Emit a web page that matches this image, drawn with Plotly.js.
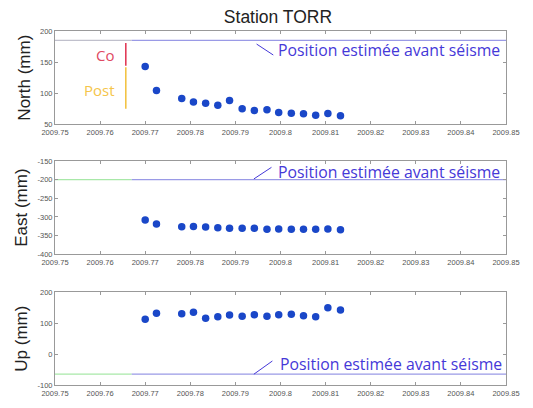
<!DOCTYPE html>
<html>
<head>
<meta charset="utf-8">
<script src="https://cdn.plot.ly/plotly-3.0.1.min.js"></script>
<style>html,body{margin:0;padding:0;background:#fff;}#chart{width:533px;height:408px;}</style>
</head>
<body>
<div id="chart"></div>
<script>
// ---- data ----
const dates = [2009.7700, 2009.7725, 2009.7781, 2009.7807, 2009.7834, 2009.7861, 2009.7887, 2009.7915,
               2009.7942, 2009.7970, 2009.7996, 2009.8024, 2009.8051, 2009.8078, 2009.8105, 2009.8133];
const north = [143, 104.5, 91.5, 86, 84, 80.5, 88.3, 75, 72.3, 73.6, 69, 67.9, 66.8, 64.7, 67.3, 63.6];
const east = [-308, -319, -326, -325.5, -327, -329, -330.5, -330.5, -330.5, -333, -332, -333, -333, -333, -332, -334];
const up = [112.6, 132, 130.7, 135.3, 115.9, 121, 126.5, 122.3, 127.5, 122.3, 127.5, 128.8, 124.3, 121, 150.2, 142.7];

// estimated pre-earthquake positions (before / after switch)
const preBeforeX = [2009.75, 2009.767];
const preAfterX = [2009.767, 2009.85];
const preNorth = 185;
const preEast = -200;
const preUp = -65;

// co-seismic and post-seismic bars (North panel)
const quakeX = 2009.7657;
const coRange = [180.7, 144.2];
const postRange = [141.6, 75];

const xTickVals = [2009.75, 2009.76, 2009.77, 2009.78, 2009.79, 2009.8, 2009.81, 2009.82, 2009.83, 2009.84, 2009.85];
const xTickText = ['2009.75', '2009.76', '2009.77', '2009.78', '2009.79', '2009.8', '2009.81', '2009.82', '2009.83', '2009.84', '2009.85'];
const northTicks = [50, 100, 150, 200];
const eastTicks = [-400, -350, -300, -250, -200, -150];
const upTicks = [-100, 0, 100, 200];

const labelText = 'Position estimée avant séisme';
const titleText = 'Station TORR';

// ---- styles ----
const dotColor = '#1a47c8';
const greenCol = '#a8e8a8';
const purpleCol = '#9a9ae6';
const textBlue = '#4538d8';

function dots(y, xa, ya) {
  return {x: dates, y: y, xaxis: xa, yaxis: ya, mode: 'markers', type: 'scatter',
          marker: {color: dotColor, size: 7.5}, hoverinfo: 'skip', showlegend: false};
}
function seg(xs, yv, col, xa, ya) {
  return {x: xs, y: [yv, yv], xaxis: xa, yaxis: ya, mode: 'lines', type: 'scatter',
          line: {color: col, width: 1.2}, hoverinfo: 'skip', showlegend: false};
}

const traces = [
  seg(preBeforeX, preNorth, '#c0c0cc', 'x', 'y'),
  seg(preAfterX, preNorth, purpleCol, 'x', 'y'),
  seg(preBeforeX, preEast, greenCol, 'x2', 'y2'),
  seg(preAfterX, preEast, purpleCol, 'x2', 'y2'),
  seg(preBeforeX, preUp, greenCol, 'x3', 'y3'),
  seg(preAfterX, preUp, purpleCol, 'x3', 'y3'),
  {x: [quakeX, quakeX], y: coRange, xaxis: 'x', yaxis: 'y', mode: 'lines', type: 'scatter',
   line: {color: '#e0304e', width: 1.5}, hoverinfo: 'skip', showlegend: false},
  {x: [quakeX, quakeX], y: postRange, xaxis: 'x', yaxis: 'y', mode: 'lines', type: 'scatter',
   line: {color: '#f2c03a', width: 1.5}, hoverinfo: 'skip', showlegend: false},
  dots(north, 'x', 'y'),
  dots(east, 'x2', 'y2'),
  dots(up, 'x3', 'y3')
];

const tickFont = {family: 'Liberation Sans, Arial, sans-serif', size: 7.5, color: '#555'};
function xaxis(anchor) {
  return {anchor: anchor, range: [2009.75, 2009.85], tickvals: xTickVals, ticktext: xTickText,
          ticks: 'inside', ticklen: 3, tickcolor: '#999', showline: true, linecolor: '#999', linewidth: 1,
          mirror: 'ticks', showgrid: false, zeroline: false, tickfont: tickFont, ticklabelstandoff: 1};
}
function yaxis(anchor, dom, rng, tv, title) {
  return {anchor: anchor, domain: dom, range: rng, tickvals: tv, ticktext: tv.map(v => String(v)),
          ticks: 'inside', ticklen: 3, tickcolor: '#999', showline: true, linecolor: '#999', linewidth: 1,
          mirror: 'ticks', showgrid: false, zeroline: false, tickfont: tickFont,
          title: {text: title, standoff: 5, font: {family: 'Liberation Sans, Arial, sans-serif', size: 17, color: '#222'}}};
}

const annFont = {family: 'Open Sans, sans-serif', size: 15.8, color: textBlue};
const layout = {
  width: 533, height: 408,
  margin: {l: 55, r: 27, t: 31, b: 23},
  paper_bgcolor: '#fff', plot_bgcolor: '#fff',
  showlegend: false,
  title: {text: titleText, x: 278 / 533, xanchor: 'center', xref: 'container', y: 1 - 17 / 408, yanchor: 'middle',
          font: {family: 'Liberation Sans, Arial, sans-serif', size: 17.5, color: '#222'}},
  xaxis: xaxis('y'),
  xaxis2: xaxis('y2'),
  xaxis3: xaxis('y3'),
  yaxis: yaxis('x', [0.7364, 1], [50, 200], northTicks, 'North (mm)'),
  yaxis2: yaxis('x2', [0.3692, 0.6328], [-400, -150], eastTicks, 'East (mm)'),
  yaxis3: yaxis('x3', [0, 0.2619], [-100, 200], upTicks, 'Up (mm)'),
  shapes: [
    {type: 'line', xref: 'x', yref: 'y', x0: 2009.7947, y0: 179, x1: 2009.7984, y1: 161.4, line: {color: textBlue, width: 1}},
    {type: 'line', xref: 'x2', yref: 'y2', x0: 2009.7941, y0: -198, x1: 2009.7980, y1: -167, line: {color: textBlue, width: 1}},
    {type: 'line', xref: 'x3', yref: 'y3', x0: 2009.7941, y0: -65, x1: 2009.7982, y1: -22.3, line: {color: textBlue, width: 1}}
  ],
  annotations: [
    {text: labelText, xref: 'x', yref: 'y', x: 2009.7990, y: 169.4, xanchor: 'left', yanchor: 'middle', showarrow: false, font: annFont},
    {text: labelText, xref: 'x2', yref: 'y2', x: 2009.7990, y: -180.3, xanchor: 'left', yanchor: 'middle', showarrow: false, font: annFont},
    {text: labelText, xref: 'x3', yref: 'y3', x: 2009.7994, y: -32, xanchor: 'left', yanchor: 'middle', showarrow: false, font: annFont},
    {text: 'Co', xref: 'x', yref: 'y', x: 2009.7611, y: 161.5, xanchor: 'center', yanchor: 'middle', showarrow: false,
     font: {family: 'Open Sans, sans-serif', size: 15, color: '#e04a62'}},
    {text: 'Post', xref: 'x', yref: 'y', x: 2009.7599, y: 104.5, xanchor: 'center', yanchor: 'middle', showarrow: false,
     font: {family: 'Open Sans, sans-serif', size: 15, color: '#f5c54a'}}
  ]
};

Plotly.newPlot('chart', traces, layout, {displayModeBar: false, staticPlot: true});
</script>
</body>
</html>
